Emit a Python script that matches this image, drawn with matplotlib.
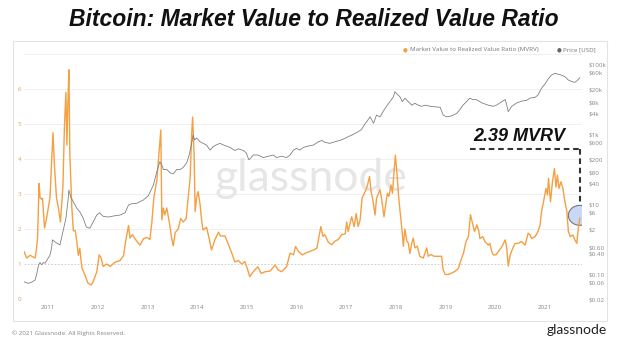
import matplotlib
matplotlib.use("Agg")
from matplotlib import pyplot as plt
from matplotlib.patches import Ellipse, Rectangle

# MVRV ratio (decimal year, value)
mvrv_years = [
    2010.52, 2010.57, 2010.64, 2010.74, 2010.77, 2010.79, 2010.82, 2010.84, 2010.87, 2010.89,
    2010.93, 2010.97, 2011.04, 2011.07, 2011.10, 2011.13, 2011.17, 2011.21, 2011.25, 2011.30,
    2011.33, 2011.36, 2011.38, 2011.40, 2011.42, 2011.44, 2011.48, 2011.51, 2011.55, 2011.58,
    2011.61, 2011.64, 2011.68, 2011.74, 2011.80, 2011.87, 2011.91, 2011.98, 2012.03, 2012.07,
    2012.11, 2012.18, 2012.25, 2012.35, 2012.45, 2012.52, 2012.56, 2012.62, 2012.65, 2012.70,
    2012.78, 2012.85, 2012.92, 2012.99, 2013.05, 2013.09, 2013.13, 2013.19, 2013.23, 2013.27,
    2013.29, 2013.32, 2013.35, 2013.39, 2013.44, 2013.49, 2013.52, 2013.56, 2013.62, 2013.67,
    2013.72, 2013.78, 2013.82, 2013.86, 2013.89, 2013.91, 2013.94, 2013.96, 2013.99, 2014.02,
    2014.06, 2014.09, 2014.12, 2014.19, 2014.25, 2014.29, 2014.36, 2014.43, 2014.47, 2014.56,
    2014.63, 2014.70, 2014.76, 2014.83, 2014.90, 2014.96, 2015.01, 2015.03, 2015.06, 2015.13,
    2015.22, 2015.29, 2015.37, 2015.47, 2015.57, 2015.63, 2015.70, 2015.80, 2015.87, 2015.94,
    2015.98, 2016.04, 2016.12, 2016.18, 2016.27, 2016.34, 2016.41, 2016.44, 2016.49, 2016.53,
    2016.57, 2016.64, 2016.71, 2016.77, 2016.84, 2016.91, 2016.98, 2017.01, 2017.04, 2017.11,
    2017.16, 2017.20, 2017.24, 2017.28, 2017.32, 2017.36, 2017.39, 2017.42, 2017.47, 2017.50,
    2017.53, 2017.58, 2017.61, 2017.65, 2017.68, 2017.71, 2017.76, 2017.80, 2017.83, 2017.86,
    2017.90, 2017.93, 2017.96, 2017.99, 2018.02, 2018.05, 2018.08, 2018.12, 2018.15, 2018.18,
    2018.22, 2018.25, 2018.28, 2018.32, 2018.35, 2018.38, 2018.43, 2018.48, 2018.55, 2018.62,
    2018.65, 2018.70, 2018.77, 2018.85, 2018.92, 2018.95, 2018.99, 2019.05, 2019.12, 2019.19,
    2019.26, 2019.31, 2019.36, 2019.41, 2019.46, 2019.50, 2019.54, 2019.58, 2019.63, 2019.67,
    2019.69, 2019.75, 2019.79, 2019.86, 2019.89, 2019.93, 2019.96, 2020.01, 2020.06, 2020.13,
    2020.20, 2020.23, 2020.26, 2020.30, 2020.35, 2020.40, 2020.46, 2020.53, 2020.60, 2020.66,
    2020.70, 2020.73, 2020.80, 2020.86, 2020.90, 2020.93, 2020.97, 2021.02, 2021.05, 2021.07,
    2021.11, 2021.15, 2021.19, 2021.22, 2021.25, 2021.28, 2021.32, 2021.36, 2021.40, 2021.44,
    2021.47, 2021.51, 2021.56, 2021.60, 2021.64, 2021.67, 2021.70,
]
mvrv_values = [
    1.35, 1.17, 1.25, 1.17, 1.46, 1.74, 3.30, 2.90, 2.85, 2.88,
    2.03, 2.30, 2.90, 3.80, 4.75, 3.80, 2.90, 2.60, 2.20, 3.20,
    4.90, 5.90, 4.40, 5.60, 6.55, 4.10, 2.60, 1.95, 1.95, 1.63,
    1.25, 1.45, 0.90, 0.70, 0.46, 0.40, 0.50, 0.77, 1.26, 1.17,
    0.93, 1.00, 0.93, 1.05, 1.10, 1.24, 1.63, 2.10, 1.74, 1.84,
    1.66, 1.54, 1.72, 1.76, 1.70, 2.20, 2.90, 3.40, 4.10, 4.83,
    2.26, 2.60, 2.40, 2.60, 2.20, 1.72, 1.52, 1.90, 2.00, 2.30,
    2.20, 2.30, 2.90, 3.46, 4.70, 5.20, 4.10, 2.50, 2.90, 3.07,
    2.70, 2.26, 1.97, 2.05, 1.68, 1.40, 1.70, 1.91, 1.80, 1.80,
    1.56, 1.30, 1.06, 1.10, 1.00, 1.07, 0.87, 0.78, 0.64, 0.78,
    0.92, 0.73, 0.78, 0.80, 0.97, 0.83, 0.78, 0.92, 1.31, 1.26,
    1.50, 1.36, 1.26, 1.31, 1.36, 1.40, 1.45, 1.69, 2.07, 1.79,
    1.84, 1.62, 1.55, 1.65, 1.70, 1.84, 1.86, 2.20, 1.93, 2.35,
    2.07, 2.44, 2.07, 2.26, 2.90, 3.00, 3.10, 3.21, 3.50, 3.07,
    2.88, 2.40, 2.88, 3.02, 3.12, 2.88, 2.35, 2.76, 3.02, 2.93,
    3.26, 3.02, 3.60, 4.11, 3.60, 3.00, 2.55, 2.00, 1.51, 2.00,
    1.65, 1.60, 1.30, 1.60, 1.74, 1.46, 1.51, 1.22, 1.17, 1.46,
    1.22, 1.27, 1.22, 1.22, 1.22, 0.84, 0.70, 0.70, 0.74, 0.79,
    0.88, 1.12, 1.31, 1.64, 1.79, 2.41, 2.17, 1.93, 2.12, 1.93,
    1.73, 1.78, 1.64, 1.54, 1.59, 1.35, 1.26, 1.26, 1.35, 1.49,
    1.69, 1.45, 0.94, 1.26, 1.45, 1.59, 1.59, 1.64, 1.54, 1.88,
    1.83, 1.73, 1.78, 1.93, 2.11, 2.50, 2.78, 3.16, 2.97, 3.45,
    2.78, 3.35, 3.73, 3.20, 3.54, 3.16, 3.35, 3.16, 2.78, 2.50,
    1.93, 1.78, 1.83, 1.69, 1.59, 2.02, 2.31,
]

# BTC price in USD (decimal year, value)
price_years = [
    2010.52, 2010.60, 2010.67, 2010.74, 2010.77, 2010.81, 2010.84, 2010.87, 2010.91, 2010.94,
    2011.04, 2011.07, 2011.09, 2011.17, 2011.24, 2011.30, 2011.36, 2011.40, 2011.42, 2011.46,
    2011.51, 2011.58, 2011.64, 2011.71, 2011.77, 2011.84, 2011.91, 2011.98, 2012.04, 2012.11,
    2012.21, 2012.35, 2012.45, 2012.55, 2012.62, 2012.68, 2012.78, 2012.92, 2013.02, 2013.12,
    2013.19, 2013.25, 2013.29, 2013.32, 2013.39, 2013.46, 2013.52, 2013.59, 2013.66, 2013.72,
    2013.79, 2013.84, 2013.89, 2013.92, 2013.95, 2013.99, 2014.06, 2014.12, 2014.19, 2014.26,
    2014.32, 2014.39, 2014.46, 2014.52, 2014.59, 2014.66, 2014.76, 2014.83, 2014.93, 2014.99,
    2015.04, 2015.06, 2015.13, 2015.23, 2015.33, 2015.43, 2015.53, 2015.60, 2015.70, 2015.80,
    2015.87, 2015.94, 2016.00, 2016.07, 2016.14, 2016.24, 2016.34, 2016.44, 2016.51, 2016.57,
    2016.67, 2016.77, 2016.87, 2016.98, 2017.04, 2017.11, 2017.18, 2017.24, 2017.31, 2017.36,
    2017.41, 2017.48, 2017.55, 2017.61, 2017.68, 2017.74, 2017.81, 2017.88, 2017.95, 2017.98,
    2018.03, 2018.08, 2018.13, 2018.18, 2018.25, 2018.32, 2018.38, 2018.45, 2018.52, 2018.59,
    2018.69, 2018.79, 2018.89, 2018.95, 2019.02, 2019.12, 2019.22, 2019.28, 2019.35, 2019.42,
    2019.48, 2019.55, 2019.61, 2019.69, 2019.75, 2019.86, 2019.96, 2020.03, 2020.13, 2020.20,
    2020.23, 2020.26, 2020.33, 2020.43, 2020.53, 2020.63, 2020.70, 2020.80, 2020.86, 2020.93,
    2021.00, 2021.07, 2021.13, 2021.20, 2021.27, 2021.33, 2021.40, 2021.47, 2021.54, 2021.60,
    2021.64, 2021.70,
]
price_values = [
    0.062, 0.056, 0.06, 0.07, 0.098, 0.19, 0.22, 0.19, 0.22, 0.21,
    0.36, 0.56, 0.98, 0.8, 0.7, 1.67, 4.0, 12, 26, 16,
    12, 7.8, 6.2, 4.0, 2.3, 2.1, 3.2, 5.0, 5.8, 4.6,
    4.4, 4.8, 5.0, 5.8, 9.7, 10.5, 10.8, 13.5, 18, 36,
    87, 167, 135, 100, 100, 80, 75, 100, 100, 115,
    155, 260, 560, 970, 700, 800, 620, 560, 500, 360,
    450, 510, 560, 510, 470, 430, 350, 390, 350, 300,
    190, 200, 260, 260, 220, 240, 260, 220, 240, 220,
    260, 360, 400, 360, 430, 470, 500, 620, 680, 600,
    560, 620, 680, 780, 870, 960, 1080, 1200, 1400, 1870,
    2300, 3200, 2100, 3600, 3200, 4500, 6400, 8700, 12000, 16800,
    14000, 12000, 8700, 10900, 8700, 6900, 7800, 6900, 6400, 6900,
    6400, 6200, 6000, 3600, 3200, 3400, 4000, 5000, 6900, 8700,
    10900, 10000, 10000, 8700, 7800, 6900, 6400, 7000, 8700, 10000,
    6900, 4500, 6400, 8000, 9000, 9500, 11000, 11500, 13500, 21000,
    28000, 40000, 50000, 56000, 52600, 50000, 45000, 36000, 32500, 31000,
    34000, 42000,
]

year_ticks = list(range(2011, 2022))
mvrv_ticks = [0, 1, 2, 3, 4, 5, 6]
price_ticks = [0.02, 0.06, 0.10, 0.40, 0.60, 2, 6, 10, 40, 80, 200, 600,
               1e3, 4e3, 8e3, 2e4, 6e4, 1e5]
price_labels = ['$0.02', '$0.06', '$0.10', '$0.40', '$0.60', '$2', '$6', '$10',
                '$40', '$80', '$200', '$600', '$1k', '$4k', '$8k', '$20k',
                '$60k', '$100k']
current_mvrv = 2.39

orange = '#f4a043'
grey = '#808080'
small = dict(family='Open Sans', fontsize=4.5)

W, H = 620, 345
fig = plt.figure(figsize=(6.2, 3.45), dpi=100)
fig.patches.append(Rectangle((12.7 / W, 1 - 321 / H), (607 - 12.7) / W, (321 - 41) / H,
                             transform=fig.transFigure, fill=False, ec='#e3e3e3', lw=0.8))

ax = fig.add_axes([24 / W, 1 - 299 / H, (582 - 24) / W, (299 - 54) / H])
ax.set_xlim(2010.517, 2021.744)
ax.set_ylim(0, 7)
for sp in ax.spines.values():
    sp.set_visible(False)
for g in range(2, 8):
    ax.axhline(g, color='#f0f0f0', lw=0.7, zorder=0)
ax.axhline(1, color='#c8c8c8', lw=0.6, ls=(0, (2, 2)), zorder=0)
ax.axhline(0, color='#e6e6e6', lw=0.8, zorder=0)

ax.text(0.515, 0.49, 'glassnode', transform=ax.transAxes, ha='center', va='center',
        fontsize=32, family='Lato', color='#e6e6e6', zorder=0)

ax.plot(mvrv_years, mvrv_values, color=orange, lw=1.0, zorder=3)

ax.set_xticks(year_ticks)
ax.set_xticklabels([str(y) for y in year_ticks], color='#888888', **small)
ax.set_yticks(mvrv_ticks)
ax.set_yticklabels([str(v) for v in mvrv_ticks], color='#d9a36a', **small)
ax.tick_params(axis='both', length=0)
ax.tick_params(axis='x', pad=4)
ax.tick_params(axis='y', pad=2)

ax2 = ax.twinx()
ax2.set_yscale('log')
ax2.set_ylim(0.02, 2e5)
for sp in ax2.spines.values():
    sp.set_visible(False)
ax2.plot(price_years, price_values, color=grey, lw=0.6)
ax2.set_yticks(price_ticks)
ax2.set_yticklabels(price_labels, color='#888888', **small)
ax2.yaxis.set_minor_locator(matplotlib.ticker.NullLocator())
ax2.tick_params(axis='y', length=0, pad=5)

# annotation: current MVRV
x_end = mvrv_years[-1]
dash = dict(color='#333333', lw=1.5, ls=(0, (2.7, 1.8)), zorder=4)
ax.plot([2019.49, x_end], [4.29, 4.29], **dash)
ax.plot([x_end, x_end], [4.29, 2.69], **dash)
ax.add_patch(Ellipse((x_end, current_mvrv), 0.46, 0.57, fc='#c9d8f6', ec='#777777',
                     lw=0.8, zorder=2))
ax.text(2020.49, 4.63, f'{current_mvrv:.2f} MVRV', ha='center', va='center',
        fontsize=13, fontweight='bold', style='italic', family='Liberation Sans',
        color='#111111', zorder=5)

# title, legend, footer
fig.text(314 / W, 1 - 19 / H, 'Bitcoin: Market Value to Realized Value Ratio',
         ha='center', va='center', fontsize=16.5, fontweight='bold', style='italic',
         family='Liberation Sans', color='#111111')
fig.text(405 / W, 1 - 50 / H, '●', color=orange, ha='center', va='center', fontsize=4)
fig.text(410 / W, 1 - 50 / H, 'Market Value to Realized Value Ratio (MVRV)',
         color='#777777', va='center', **small)
fig.text(559 / W, 1 - 50 / H, '●', color='#666666', ha='center', va='center', fontsize=4)
fig.text(563 / W, 1 - 50 / H, 'Price [USD]', color='#777777', va='center', **small)
fig.text(12 / W, 1 - 333 / H, '© 2021 Glassnode. All Rights Reserved.',
         color='#888888', va='center', **small)
fig.text(607 / W, 1 - 330 / H, 'glassnode', ha='right', va='center', fontsize=10,
         family='Lato', color='#222222')

fig.savefig('out.png', dpi=100)
